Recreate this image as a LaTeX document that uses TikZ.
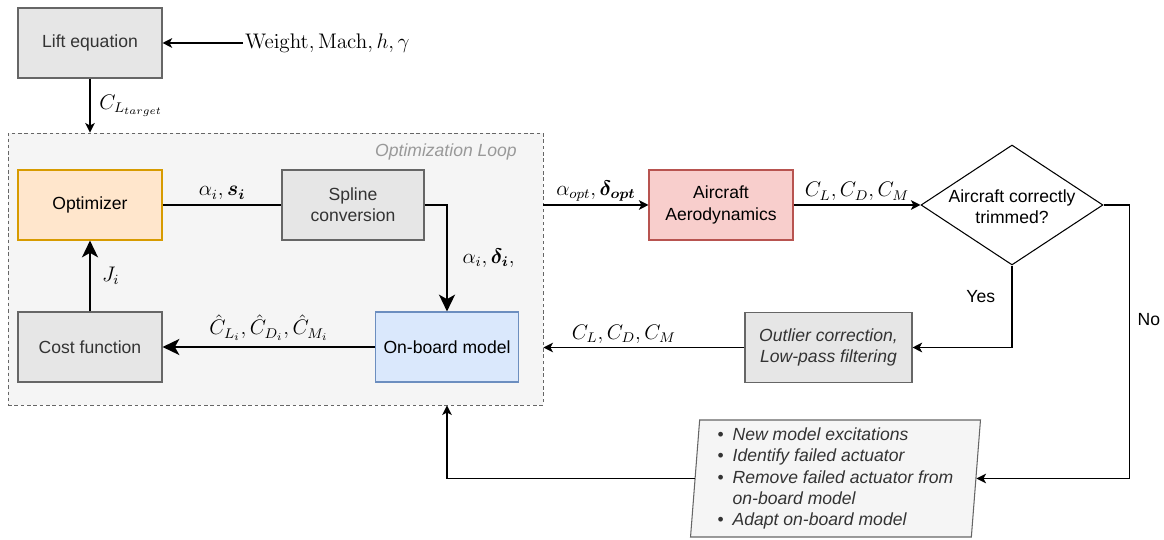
\documentclass[tikz,border=0pt]{standalone}
\usepackage{amsmath,bm}
\usepackage[no-math]{fontspec}
\setmainfont{Liberation Sans}
\usepackage{tikz}
\usetikzlibrary{arrows.meta}
\usetikzlibrary{arrows}
\usetikzlibrary{calc}
\usetikzlibrary{shapes}
\usetikzlibrary{positioning}
\tikzset{>=stealth'}

\definecolor{boxgray}{HTML}{E6E6E6}
\definecolor{strokegray}{HTML}{666666}
\definecolor{textgray}{HTML}{333333}
\definecolor{loopfill}{HTML}{F5F5F5}
\definecolor{loopgray}{HTML}{999999}
\definecolor{optfill}{HTML}{FFE6CC}
\definecolor{optdraw}{HTML}{D79B00}
\definecolor{obfill}{HTML}{DAE8FC}
\definecolor{obdraw}{HTML}{6C8EBF}
\definecolor{aerofill}{HTML}{F8CECC}
\definecolor{aerodraw}{HTML}{B85450}

\newcommand{\bulletline}{{\upshape\textbullet}\hspace{5pt}}
\newcommand{\bulletgap}{\phantom{\textbullet}\hspace{5pt}}

\begin{document}
\begin{tikzpicture}[x=0.02cm,y=-0.02cm,
  every node/.style={align=center},
  block/.style={draw=strokegray,fill=boxgray,text=textgray,line width=0.6pt,
    minimum width=2.88cm,minimum height=1.4cm},
  loopbox/.style={draw=strokegray,fill=loopfill,dashed,line width=0.5pt,
    dash pattern=on 2pt off 1.6pt,minimum width=10.7cm,minimum height=5.44cm},
  flow/.style={-{Stealth[length=5.5pt,width=5.5pt,inset=1.5pt]},line width=0.6pt},
  bigflow/.style={-{Stealth[length=9.5pt,width=9pt,inset=2.5pt]},line width=1.7pt},
  lbl/.style={font=\large,inner sep=2pt}]

  \useasboundingbox (0,0) rectangle (1164,540);

  % lift equation and inputs
  \draw node[block] at (90,43) (lift) {Lift equation};
  \draw node[anchor=west,lbl,inner sep=1pt] at (243,43) (inputs) {$\mathrm{Weight},\mathrm{Mach},h,\gamma$};
  \draw[flow] (inputs) -- (lift);

  % optimization loop
  \draw node[loopbox] at (275.5,269) (loop) {};
  \draw node[anchor=east,text=loopgray,font=\itshape] at (523,152) (looptitle) {Optimization Loop};
  \draw[flow] (lift) -- node[right=3pt,lbl] {$C_{L_{target}}$} (loop.north -| lift);

  \draw node[block,fill=optfill,draw=optdraw,text=black] at (90,205) (opt) {Optimizer};
  \draw node[block,minimum width=2.84cm] at (353,205) (spline) {Spline\\conversion};
  \draw node[block] at (90,347) (cost) {Cost function};
  \draw node[block,fill=obfill,draw=obdraw,text=black,minimum width=2.86cm] at (447,347) (onboard) {On-board model};

  \draw[line width=1.7pt] (opt) -- node[above,lbl] {$\alpha_i,\boldsymbol{s_i}$} (spline);
  \draw[bigflow] (spline) -| node[pos=0.75,right=6pt,lbl] {$\alpha_i,\boldsymbol{\delta_i},$} (onboard);
  \draw[bigflow] (onboard) -- node[above=1pt,lbl] {$\hat{C}_{L_i},\hat{C}_{D_i},\hat{C}_{M_i}$} (cost);
  \draw[bigflow] (cost) -- node[right=4pt,lbl] {$J_i$} (opt);

  % aircraft and trim check
  \draw node[block,fill=aerofill,draw=aerodraw,text=black] at (721,205) (aero) {Aircraft\\Aerodynamics};
  \draw[flow] (loop.east |- aero) -- node[above,lbl] {$\alpha_{opt},\boldsymbol{\delta_{opt}}$} (aero);
  \draw node[diamond,draw,line width=0.6pt,minimum width=3.64cm,minimum height=2.4cm,inner sep=0pt] at (1012,205) (trim) {};
  \draw node at (1012,207) (trimtext) {Aircraft correctly\\trimmed?};
  \draw[flow] (aero) -- node[above,lbl] {$C_L,C_D,C_M$} (trim);

  \draw node[block,minimum width=3.34cm,font=\itshape] at (828.5,347.5) (outlier) {Outlier correction,\\Low-pass filtering};
  \draw[flow] (trim.south) |- node[pos=0.19,left=6pt] {Yes} (outlier);
  \draw[flow] (outlier) -- node[pos=0.6,above,lbl] {$C_L,C_D,C_M$} (outlier -| loop.east);

  % failure handling
  \draw node[trapezium,trapezium left angle=85,trapezium right angle=95,trapezium stretches body,
    draw=strokegray,fill=loopfill,text=textgray,line width=0.6pt,font=\itshape,align=left,
    minimum width=5.8cm,minimum height=2.34cm,inner sep=1pt] at (835.5,478.5) (fix)
    {\bulletline New model excitations\\
     \bulletline Identify failed actuator\\
     \bulletline Remove failed actuator from\\
     \bulletgap on-board model\\
     \bulletline Adapt on-board model};
  \draw[flow] (trim.east) -- ++(26,0) |- node[pos=0.21,right=1pt] {No} (fix.east);
  \draw[flow] (fix.west) -| (onboard |- loop.south);

\end{tikzpicture}
\end{document}
